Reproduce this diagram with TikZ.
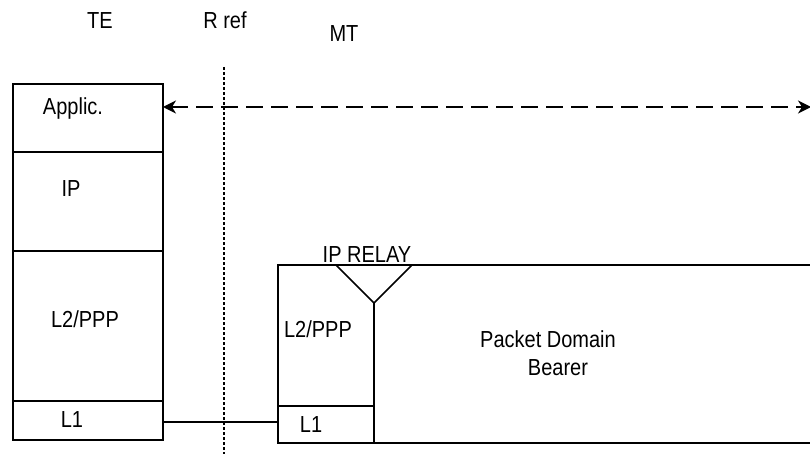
\documentclass[tikz,border=0pt]{standalone}
\usepackage{fontspec}
\setmainfont{Liberation Sans}
\usetikzlibrary{arrows.meta}
\newcommand{\tallt}[1]{\scalebox{1}[1.16]{#1}}
\begin{document}
\begin{tikzpicture}[x=1pt,y=-1pt,
  every node/.style={font=\fontsize{20}{24}\selectfont},
  lbl/.style={anchor=base,inner sep=0pt},
  layerbox/.style={draw,line width=1.5pt,inner sep=0pt,outer sep=0pt},
  wire/.style={line width=1.5pt},
  peer/.style={line width=1.6pt,dash pattern=on 16.5pt off 8.5pt,
    {Stealth[length=13pt,width=13pt,inset=4pt]}-{Stealth[length=13pt,width=13pt,inset=4pt]}},
  refline/.style={line width=1.4pt,dash pattern=on 3pt off 2pt}]
\useasboundingbox (0,0) rectangle (810,454);
% column titles
\node[lbl] (te) at (100,29) {\tallt{TE}};
\node[lbl] (rref) at (225,29) {\tallt{R ref}};
\node[lbl] (mt) at (344,42) {\tallt{MT}};
% reference point line
\coordinate (rtop) at (224,67);
\coordinate (rbot) at (224,454);
\draw[refline] (rtop) -- (rbot);
% TE stack
\node[layerbox,minimum width=150pt,minimum height=68pt] (app) at (88,118) {};
\node[layerbox,minimum width=150pt,minimum height=99pt] (ip) at (88,201.5) {};
\node[layerbox,minimum width=150pt,minimum height=150pt] (l2) at (88,326) {};
\node[layerbox,minimum width=150pt,minimum height=39pt] (l1) at (88,420.5) {};
\node[lbl] (appt) at (73,115) {\tallt{Applic.}};
\node[lbl] (ipt) at (71,197) {\tallt{IP}};
\node[lbl] (l2t) at (85,327) {\tallt{L2/PPP}};
\node[lbl] (l1t) at (72,427) {\tallt{L1}};
% MT stack
\coordinate (mtnw) at (278,265);
\coordinate (mtne) at (810,265);
\coordinate (mtsw) at (278,443);
\coordinate (mtse) at (810,443);
\coordinate (mtdivw) at (278,406);
\coordinate (mtdive) at (374,406);
\coordinate (trl) at (336,265);
\coordinate (trr) at (412,265);
\coordinate (apex) at (374,303);
\coordinate (mtbot) at (374,443);
\draw[wire] (mtne) -- (mtnw) -- (mtsw) -- (mtse);
\draw[wire] (mtdivw) -- (mtdive);
\draw[wire] (trl) -- (apex) -- (trr);
\draw[wire] (apex) -- (mtbot);
\node[lbl] (relay) at (367,262) {\tallt{IP RELAY}};
\node[lbl] (mtl2t) at (318,337) {\tallt{L2/PPP}};
\node[lbl] (mtl1t) at (311,432) {\tallt{L1}};
\node[lbl] (pd) at (548,347) {\tallt{Packet Domain}};
\node[lbl] (br) at (558,375) {\tallt{Bearer}};
% L1 physical link
\coordinate (l1end) at (278,422);
\draw[wire] (l1.east |- l1end) -- (l1end);
% peer-to-peer application arrow
\coordinate (appin) at (163,107);
\coordinate (appfar) at (811,107);
\draw[peer] (appin) -- (appfar);
\end{tikzpicture}
\end{document}
